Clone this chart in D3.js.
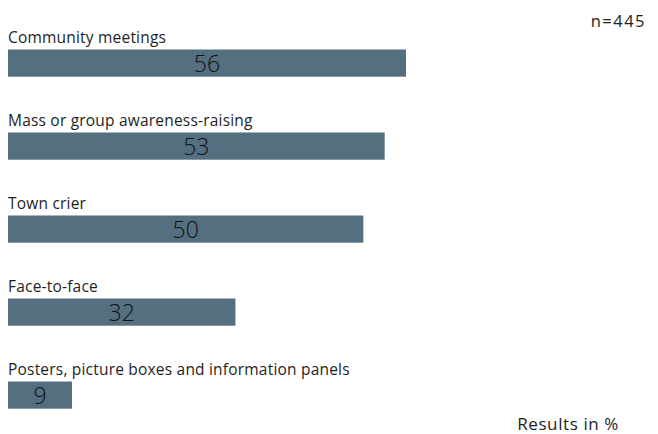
<!DOCTYPE html>
<html>
<head>
<meta charset="utf-8">
<script src="https://cdn.jsdelivr.net/npm/d3@7"></script>
<style>
  html, body { margin: 0; padding: 0; background: #fff; }
  svg { display: block; font-family: "Open Sans", Lato, sans-serif; }
</style>
</head>
<body>
<svg id="chart" width="658" height="434"></svg>
<script>
// Share of respondents per information channel (%)
const categories = [
  "Community meetings",
  "Mass or group awareness-raising",
  "Town crier",
  "Face-to-face",
  "Posters, picture boxes and information panels"
];
const values = [56, 53, 50, 32, 9];
const sampleNote = "n=445";
const unitNote = "Results in %";

const svg = d3.select("#chart");
const barColor = "#546f7f";
const textColor = "#1e1e1e";

const x = d3.scaleLinear().domain([0, 56]).range([8, 406]);
const rowTop = d3.scaleBand()
  .domain(categories)
  .range([49.5, 49.5 + 83 * categories.length])
  .paddingInner(0);
const barH = 27.2;

const rows = svg.selectAll("g.row")
  .data(categories.map((c, i) => ({ c, v: values[i] })))
  .join("g")
  .attr("class", "row")
  .attr("transform", d => `translate(0,${rowTop(d.c)})`);

rows.append("rect")
  .attr("x", x(0))
  .attr("y", 0)
  .attr("width", d => x(d.v) - x(0))
  .attr("height", barH)
  .attr("fill", barColor);

rows.append("text")
  .attr("x", 8)
  .attr("y", -7)
  .attr("font-size", 15.5)
  .attr("font-weight", 400)
  .attr("letter-spacing", 0.2)
  .attr("fill", textColor)
  .text(d => d.c);

rows.append("text")
  .attr("x", d => (x(0) + x(d.v)) / 2)
  .attr("y", 22.2)
  .attr("text-anchor", "middle")
  .attr("font-size", 23)
  .attr("font-weight", 300)
  .attr("fill", "#111")
  .text(d => d.v);

svg.append("text")
  .attr("x", 646)
  .attr("y", 26.7)
  .attr("text-anchor", "end")
  .attr("font-size", 16.5)
  .attr("font-weight", 400)
  .attr("letter-spacing", 1.5)
  .attr("fill", textColor)
  .text(sampleNote);

svg.append("text")
  .attr("x", 619)
  .attr("y", 429.5)
  .attr("text-anchor", "end")
  .attr("font-size", 17)
  .attr("font-weight", 400)
  .attr("letter-spacing", 0.6)
  .attr("fill", textColor)
  .text(unitNote);
</script>
</body>
</html>
